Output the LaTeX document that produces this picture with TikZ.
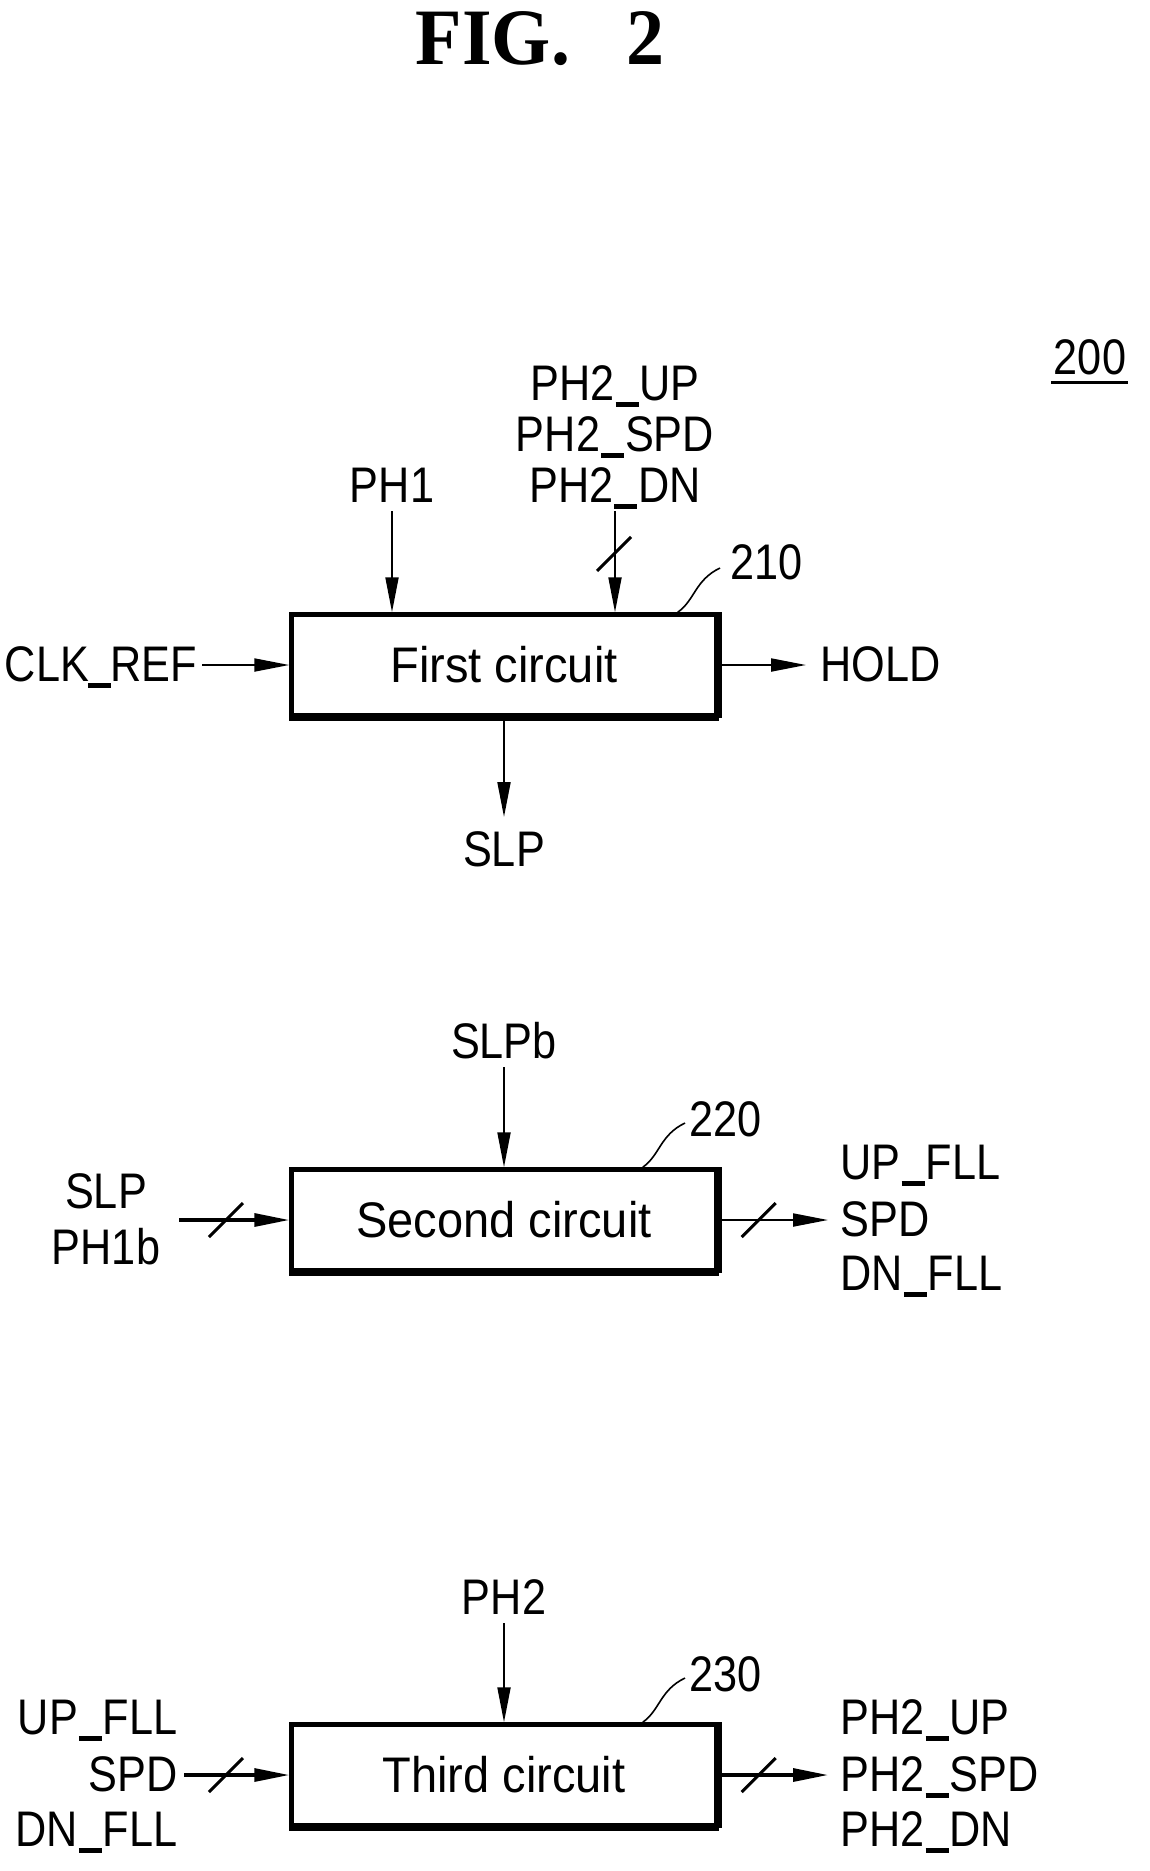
\documentclass[tikz,border=0pt]{standalone}
\usepackage{fontspec}
\setmainfont[FakeStretch=0.865]{Liberation Sans}
\newfontfamily\boxfont[FakeStretch=0.94]{Liberation Sans}
\newfontfamily\figfont[FakeStretch=0.95]{Liberation Serif}
\newcommand{\ubar}{\kern1pt\rule[-6pt]{23pt}{4.5pt}\kern1pt}
\usetikzlibrary{positioning}
\usetikzlibrary{arrows.meta}
\tikzset{
    x=1pt, y=-1pt, % Pixels of the page, counted from the top left
    node distance=1pt,
    >={Stealth[length=35pt,width=13pt,inset=0pt]},
    circuit/.style={ % Sets the properties for each block
        draw,
        line width=4.5pt,
        minimum width=425pt,
        minimum height=101pt,
        font=\boxfont\fontsize{50}{54}\selectfont
    },
    sigtext/.style={ % Sets the properties for each signal name
        inner sep=0pt,
        outer sep=8.5pt,
        text height=33pt,
        text depth=0pt,
        font=\fontsize{50}{54}\selectfont
    },
    sig/.style={->, line width=2pt},
    bus/.style={->, line width=3.2pt},
    slashmark/.style={line width=3pt},
    leader/.style={line width=1.6pt},
    heavyedge/.style={line width=7pt}
}
\begin{document}
\begin{tikzpicture}
            \useasboundingbox (0,0) rectangle (1150,1871);

            \node[inner sep=0pt, text height=53pt, text depth=0pt, font=\figfont\bfseries\fontsize{80}{84}\selectfont] (fig) at (540,38) {FIG.\hspace{56pt}2};
            \node[sigtext] (total) at (1090,358) {200};
            \draw[line width=3pt] (1051,382) -- (1128,382);

            % First circuit
            \node[circuit] (c1) at (504,665) {First circuit};
            \node[sigtext] (ph1) at (392,486) {PH1};
            \node[sigtext] (ph2dnA) at (615,486) {PH2\ubar DN};
            \node[sigtext, above=of ph2dnA] (ph2spdA) {PH2\ubar SPD};
            \node[sigtext, above=of ph2spdA] (ph2upA) {PH2\ubar UP};
            \node[sigtext, anchor=west] (clkref) at (-3.5,665) {CLK\kern-2pt\ubar\kern-2pt REF};
            \node[sigtext, anchor=west] (hold) at (812,665) {HOLD};
            \node[sigtext] (slpA) at (504,850) {SLP};
            \node[sigtext, anchor=west] (n210) at (722,563) {210};
            \coordinate (l1) at (720,568);

            \draw[sig] (ph1) -- (ph1 |- c1.north);
            \draw[sig] (ph2dnA) -- (ph2dnA |- c1.north);
            \draw[sig, shorten <=-3pt] (clkref) -- (c1);
            \draw[sig, shorten >=6pt] (c1) -- (hold);
            \draw[sig, shorten >=8pt] (c1) -- (slpA);
            \draw[slashmark] (ph2dnA) ++(-18,85) -- ++(34,-34);
            \draw[leader] ([xshift=-41pt]c1.north east) .. controls (695,600) and (695,580) .. (l1);

            % Second circuit
            \node[circuit] (c2) at (504,1220) {Second circuit};
            \node[sigtext] (slpb) at (504,1042) {SLPb};
            \node[sigtext] (slpB) at (106,1192) {SLP};
            \node[sigtext] (ph1b) at (106,1248) {PH1b};
            \coordinate (in2) at (179,1220);
            \node[sigtext, anchor=west] (spdA) at (832,1220) {SPD};
            \node[sigtext, anchor=west] (upA) at (832,1163) {UP\ubar FLL};
            \node[sigtext, anchor=west] (dnA) at (832,1274) {DN\ubar FLL};
            \node[sigtext, anchor=west] (n220) at (681,1120) {220};
            \coordinate (l2) at (685,1123);

            \draw[sig] (slpb) -- (c2);
            \draw[bus] (in2) -- (c2);
            \draw[sig, shorten >=4pt] (c2) -- (spdA);
            \draw[slashmark] (in2) ++(30,17) -- ++(34,-34);
            \draw[slashmark] (c2.east) ++(23,17) -- ++(34,-34);
            \draw[leader] ([xshift=-76pt]c2.north east) .. controls (660,1155) and (660,1135) .. (l2);

            % Third circuit
            \node[circuit] (c3) at (504,1775) {Third circuit};
            \node[sigtext] (ph2) at (504,1598) {PH2};
            \node[sigtext, anchor=east] (spdB) at (186,1775) {SPD};
            \node[sigtext, anchor=east] (upB) at (186,1718) {UP\ubar FLL};
            \node[sigtext, anchor=east] (dnB) at (186,1830) {DN\ubar FLL};
            \node[sigtext, anchor=west] (ph2spdB) at (832,1775) {PH2\ubar SPD};
            \node[sigtext, anchor=west] (ph2upB) at (832,1718) {PH2\ubar UP};
            \node[sigtext, anchor=west] (ph2dnB) at (832,1830) {PH2\ubar DN};
            \node[sigtext, anchor=west] (n230) at (681,1675) {230};
            \coordinate (l3) at (685,1678);

            \draw[sig] (ph2) -- (c3);
            \draw[bus, shorten <=-2pt] (spdB) -- (c3);
            \draw[bus, shorten >=4pt] (c3) -- (ph2spdB);
            \draw[slashmark] (spdB.east) ++(23,17) -- ++(34,-34);
            \draw[slashmark] (c3.east) ++(23,17) -- ++(34,-34);
            \draw[leader] ([xshift=-76pt]c3.north east) .. controls (660,1710) and (660,1690) .. (l3);

            % Heavier lower and right edges
            \foreach \c in {c1,c2,c3} {
                \draw[heavyedge] (\c.south west) -- (\c.south east);
                \draw[heavyedge] (\c.north east) -- (\c.south east);
            }
        \end{tikzpicture}
\end{document}
